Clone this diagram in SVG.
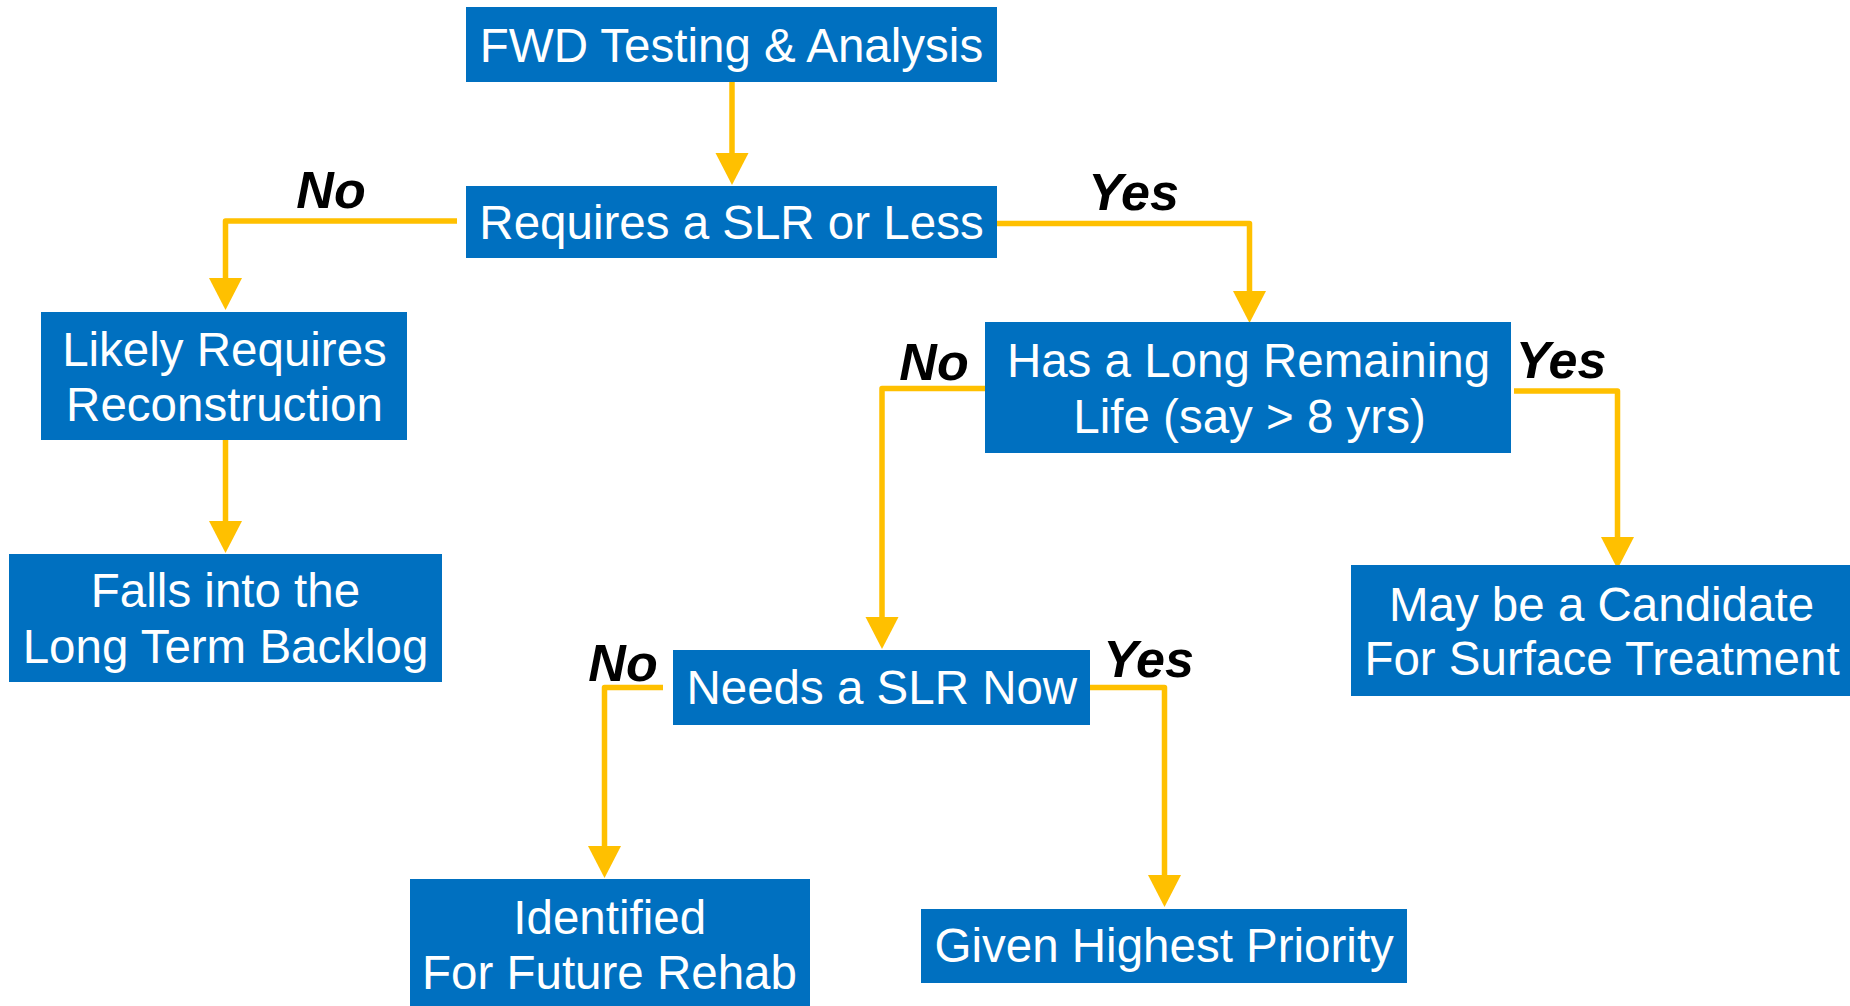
<svg xmlns="http://www.w3.org/2000/svg" width="1850" height="1006" viewBox="0 0 1850 1006">
  <style>
    .box { fill: #0070C0; }
    .txt { font-family: "Liberation Sans", Arial, sans-serif; font-size: 47.5px; fill: #FFFFFF; text-anchor: middle; }
    .lbl { font-family: "Liberation Sans", Arial, sans-serif; font-size: 52px; font-weight: bold; font-style: italic; fill: #000000; text-anchor: middle; }
    .conn { fill: none; stroke: #FFC000; stroke-width: 5.5; stroke-linejoin: round; marker-end: url(#head); }
  </style>
  <defs>
    <marker id="head" markerUnits="userSpaceOnUse" markerWidth="33" markerHeight="34" refX="0" refY="16.5" orient="auto" overflow="visible">
      <path d="M0,0 L32,16.5 L0,33 Z" fill="#FFC000"/>
    </marker>
  </defs>

  <rect width="1850" height="1006" fill="#FFFFFF"/>

  <!-- connectors -->
  <g id="connectors">
    <path class="conn" d="M732,82 V153"/>
    <path class="conn" d="M457,221 H225.5 V278"/>
    <path class="conn" d="M225.5,440 V521"/>
    <path class="conn" d="M997,223.5 H1249.5 V291"/>
    <path class="conn" d="M985,388.5 H882 V617"/>
    <path class="conn" d="M1514,391 H1617.5 V537"/>
    <path class="conn" d="M663,687.5 H604.5 V846"/>
    <path class="conn" d="M1090,687.5 H1164.5 V875"/>
  </g>

  <!-- branch labels -->
  <g id="labels">
    <text class="lbl" x="331" y="207.5">No</text>
    <text class="lbl" x="1133.5" y="210">Yes</text>
    <text class="lbl" x="934" y="380">No</text>
    <text class="lbl" x="1561" y="377.5">Yes</text>
    <text class="lbl" x="623" y="681">No</text>
    <text class="lbl" x="1148.5" y="676.5">Yes</text>
  </g>

  <!-- nodes -->
  <g id="fwd-testing">
    <rect class="box" x="466" y="7" width="531" height="75"/>
    <text class="txt" x="731.5" y="61.7">FWD Testing &amp; Analysis</text>
  </g>
  <g id="requires-slr">
    <rect class="box" x="466" y="186" width="531" height="72"/>
    <text class="txt" x="731.5" y="239.3">Requires a SLR or Less</text>
  </g>
  <g id="likely-reconstruction">
    <rect class="box" x="41" y="312" width="366" height="128"/>
    <text class="txt" x="224.5" y="365.5">Likely Requires</text>
    <text class="txt" x="224.5" y="420.5">Reconstruction</text>
  </g>
  <g id="long-term-backlog">
    <rect class="box" x="9" y="554" width="433" height="128"/>
    <text class="txt" x="225.5" y="607">Falls into the</text>
    <text class="txt" x="225.5" y="662.5">Long Term Backlog</text>
  </g>
  <g id="long-remaining-life">
    <rect class="box" x="985" y="322" width="526" height="131"/>
    <text class="txt" x="1248.5" y="377.3">Has a Long Remaining</text>
    <text class="txt" x="1249.5" y="432.7">Life (say &gt; 8 yrs)</text>
  </g>
  <g id="surface-treatment">
    <rect class="box" x="1351" y="565" width="499" height="131"/>
    <text class="txt" x="1601.5" y="620.7">May be a Candidate</text>
    <text class="txt" x="1602" y="675">For Surface Treatment</text>
  </g>
  <g id="needs-slr-now">
    <rect class="box" x="673" y="650" width="417" height="75"/>
    <text class="txt" x="881.8" y="704">Needs a SLR Now</text>
  </g>
  <g id="future-rehab">
    <rect class="box" x="410" y="879" width="400" height="127"/>
    <text class="txt" x="609.7" y="934">Identified</text>
    <text class="txt" x="609.5" y="989.3">For Future Rehab</text>
  </g>
  <g id="highest-priority">
    <rect class="box" x="921" y="909" width="486" height="74"/>
    <text class="txt" x="1164.2" y="962.3">Given Highest Priority</text>
  </g>
</svg>
